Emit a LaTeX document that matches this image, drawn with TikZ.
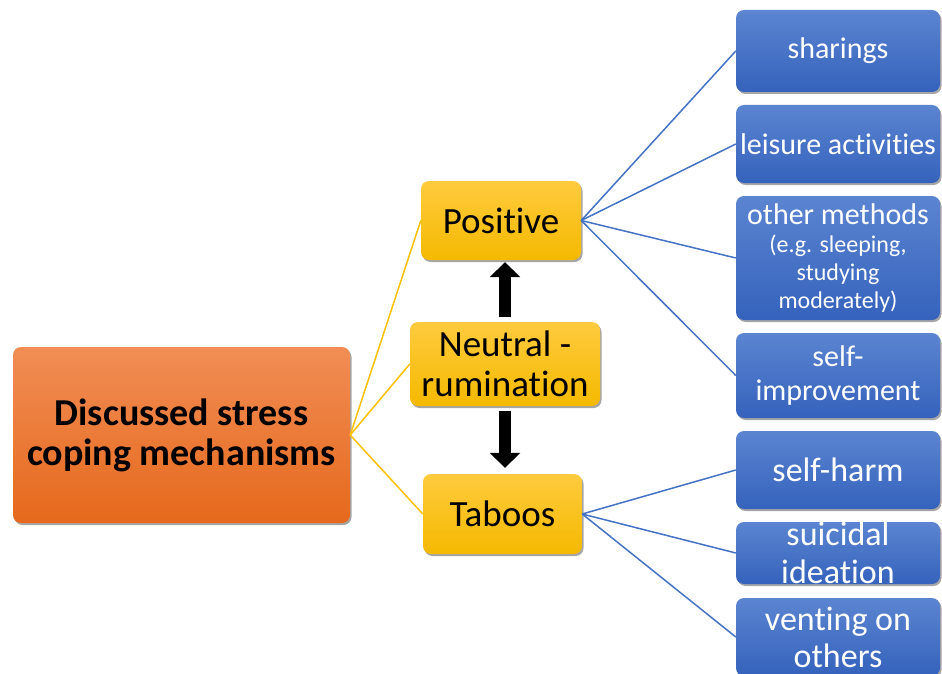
\documentclass[tikz,border=0pt]{standalone}
\usepackage{fontspec}
\setmainfont{Carlito}[Ligatures={NoCommon}]
\usetikzlibrary{shadows,arrows.meta}
\definecolor{orTop}{HTML}{F18D55}
\definecolor{orBot}{HTML}{E6691C}
\definecolor{yeTop}{HTML}{FFCB3E}
\definecolor{yeBot}{HTML}{F4B900}
\definecolor{blTop}{HTML}{5B85D1}
\definecolor{blBot}{HTML}{3562BC}
\definecolor{yeLine}{HTML}{FFC000}
\definecolor{blLine}{HTML}{4472C4}
\newcommand{\bigln}{\fontsize{30}{28}\selectfont}
\begin{document}
\begin{tikzpicture}[x=1pt,y=-1pt,
  base/.style={rounded corners=8pt, inner sep=0pt, align=center,
    drop shadow={shadow xshift=1.5pt,shadow yshift=-2pt,opacity=0.35,fill=black}},
  orangebox/.style={base, top color=orTop, bottom color=orBot,
    font=\bfseries\fontsize{38}{40}\selectfont},
  yellowbox/.style={base, top color=yeTop, bottom color=yeBot,
    font=\fontsize{37}{40}\selectfont},
  bluebox/.style={base, top color=blTop, bottom color=blBot, text=white,
    minimum width=204pt, font=\fontsize{30}{34}\selectfont},
  bigblue/.style={font=\fontsize{34}{37}\selectfont},
  smallblue/.style={font=\fontsize{24}{28}\selectfont},
  btext/.style={text=white, align=center, inner sep=0pt, font=\fontsize{34}{38}\selectfont},
  yline/.style={draw=yeLine, line width=1.5pt},
  bline/.style={draw=blLine, line width=1.5pt},
  blockarrow/.style={draw=black, line width=12pt, -{Triangle[length=15pt,width=30pt]}}
  ]
\useasboundingbox (0,0) rectangle (942,674);

% left
\node[orangebox, minimum width=337pt, minimum height=176pt] (main) at (181.5,435)
  {Discussed stress\\coping mechanisms};

% middle
\node[yellowbox, minimum width=160pt, minimum height=79pt] (pos) at (501,220.5) {Positive};
\node[yellowbox, minimum width=190pt, minimum height=84pt] (neu) at (505,364) {Neutral -\\rumination};
\node[yellowbox, minimum width=159pt, minimum height=80pt] (tab) at (502.5,514) {Taboos};

% right
\node[bluebox, minimum height=82pt] (b1) at (838,51) {sharings};
\node[bluebox, minimum height=78pt] (b2) at (838,144) {leisure activities};
\node[bluebox, smallblue, minimum height=124pt] (b3) at (838,258)
  {\bigln other methods\\(e.g. sleeping,\\studying\\moderately)};
\node[bluebox, minimum height=85pt] (b4) at (838,375.5) {self-\\improvement};
\node[bluebox, bigblue, minimum height=78pt] (b5) at (838,470) {self-harm};
\node[bluebox, minimum height=62pt] (b6) at (838,553) {};
\node[btext] (b6t) at (b6.center) {suicidal\\ideation};
\node[bluebox, bigblue, minimum height=78pt] (b7) at (838,637) {venting on\\others};

% yellow connectors
\draw[yline] (main.east) -- (pos.west);
\draw[yline] (main.east) -- (neu.west);
\draw[yline] (main.east) -- (tab.west);

% blue connectors
\foreach \b in {b1,b2,b3,b4} \draw[bline] (pos.east) -- (\b.west);
\foreach \b in {b5,b6,b7} \draw[bline] (tab.east) -- (\b.west);

% block arrows
\draw[blockarrow, shorten <=5pt, shorten >=2pt] (neu.north) -- (neu.north |- pos.south);
\draw[blockarrow, shorten <=5pt, shorten >=6pt] (neu.south) -- (neu.south |- tab.north);
\end{tikzpicture}
\end{document}
